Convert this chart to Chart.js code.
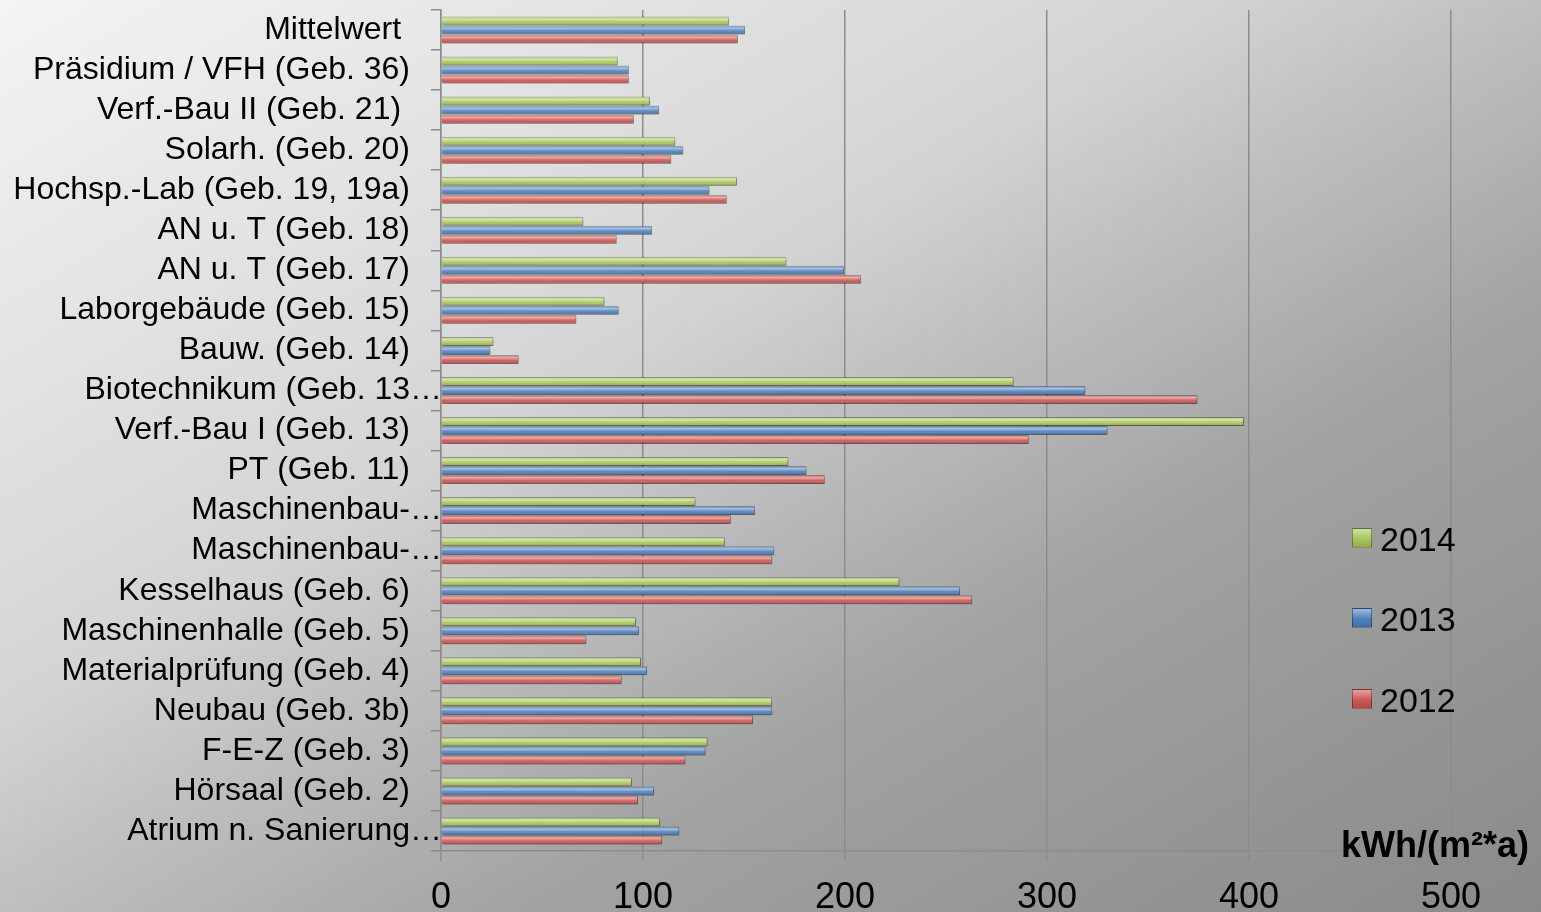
<!DOCTYPE html>
<html lang="de">
<head>
<meta charset="utf-8">
<title>Energiekennwerte Gebäude</title>
<script src="https://cdn.jsdelivr.net/npm/chart.js@4.4.1/dist/chart.umd.min.js"></script>
<style>
  html, body { margin: 0; padding: 0; }
  #wrap {
    position: relative; width: 1541px; height: 912px; overflow: hidden;
    background: linear-gradient(to bottom right, #f4f4f4 0%, #d4d4d4 39%, #bfbfbf 50%, #a2a2a2 67%, #8a8a8a 100%);
    font-family: "Liberation Sans", Arial, sans-serif;
  }
  #wrap canvas { position: absolute; left: 0; top: 0; }
  .legende { position: absolute; left: 1352px; height: 34px; font-size: 34px; line-height: 34px; color: #000; }
  .legende span.kasten { position: absolute; left: 0; width: 18px; height: 18px; border: 1px solid rgba(0,0,0,0.35); }
  .legende span.text { position: absolute; left: 28px; top: 0; }
  #einheit { position: absolute; left: 1341px; top: 827px; font-size: 36px; line-height: 36px; font-weight: bold; color: #000; white-space: nowrap; }
</style>
</head>
<body>
<div id="wrap">
  <canvas id="grafik" width="1541" height="912"></canvas>
  <div id="einheit">kWh/(m²*a)</div>
</div>
<script>
// Kategorien (von oben nach unten)
const gebaeude = [
  'Mittelwert ', 'Präsidium / VFH (Geb. 36)', 'Verf.-Bau II (Geb. 21) ', 'Solarh. (Geb. 20)',
  'Hochsp.-Lab (Geb. 19, 19a)', 'AN u. T (Geb. 18)', 'AN u. T (Geb. 17)', 'Laborgebäude (Geb. 15)',
  'Bauw. (Geb. 14)', 'Biotechnikum (Geb. 13…', 'Verf.-Bau I (Geb. 13)', 'PT (Geb. 11)',
  'Maschinenbau-…', 'Maschinenbau-…', 'Kesselhaus (Geb. 6)', 'Maschinenhalle (Geb. 5)',
  'Materialprüfung (Geb. 4)', 'Neubau (Geb. 3b)', 'F-E-Z (Geb. 3)', 'Hörsaal (Geb. 2)', 'Atrium n. Sanierung…'
];

// Werte in kWh/(m²*a)
const werte2014 = [142.5, 87.5, 103.5, 116, 146.5, 70.5, 171, 81, 26, 283.5, 397.5, 172, 126, 140.5, 227, 96.5, 99, 164, 132, 94.5, 108.5];
const werte2013 = [150.5, 93, 108, 120, 133, 104.5, 199.5, 88, 24.5, 319, 330, 181, 155.5, 165, 257, 98, 102, 164, 131, 105.5, 118];
const werte2012 = [147, 93, 95.5, 114, 141.5, 87, 208, 67, 38.5, 374.5, 291, 190, 143.5, 164, 263, 72, 89.5, 154.5, 121, 97.5, 109.5];

const jahre = ['2014', '2013', '2012'];
const farben = ['#a8c85a', '#4f81bd', '#cf5855'];
const xTicks = [0, 100, 200, 300, 400, 500];

const schrift = '"Liberation Sans", Arial, sans-serif';
const linie = '#8c8c8c';

// Glanz + Schatten für die Balken (3D-Look wie in Excel)
const glanz = {
  id: 'glanz',
  beforeDatasetsDraw(chart) {
    const ctx = chart.ctx;
    ctx.save();
    ctx.shadowColor = 'rgba(0,0,0,0.35)';
    ctx.shadowBlur = 3;
    ctx.shadowOffsetX = 1;
    ctx.shadowOffsetY = 2;
  },
  afterDatasetsDraw(chart) {
    const ctx = chart.ctx;
    ctx.restore();
    chart.data.datasets.forEach((ds, i) => {
      chart.getDatasetMeta(i).data.forEach(bar => {
        const p = bar.getProps(['x', 'y', 'base', 'height'], true);
        const oben = p.y - p.height / 2;
        const g = ctx.createLinearGradient(0, oben, 0, oben + p.height);
        g.addColorStop(0, 'rgba(255,255,255,0.05)');
        g.addColorStop(0.3, 'rgba(255,255,255,0.5)');
        g.addColorStop(0.6, 'rgba(255,255,255,0.08)');
        g.addColorStop(1, 'rgba(0,0,0,0.22)');
        ctx.fillStyle = g;
        ctx.fillRect(p.base, oben + 1, p.x - p.base - 1, p.height - 2);
      });
    });
  }
};

const ctx = document.getElementById('grafik').getContext('2d');
new Chart(ctx, {
  type: 'bar',
  data: {
    labels: gebaeude,
    datasets: [
      { label: jahre[0], data: werte2014, backgroundColor: farben[0] },
      { label: jahre[1], data: werte2013, backgroundColor: farben[1] },
      { label: jahre[2], data: werte2012, backgroundColor: farben[2] }
    ].map(d => Object.assign(d, {
      borderColor: 'rgba(0,0,0,0.3)',
      borderWidth: 1,
      categoryPercentage: 0.675,
      barPercentage: 1.0
    }))
  },
  options: {
    indexAxis: 'y',
    responsive: false,
    animation: false,
    layout: { padding: { top: 10, right: 90, left: 0, bottom: 0 } },
    plugins: {
      legend: { display: false },
      tooltip: { enabled: false }
    },
    scales: {
      x: {
        min: xTicks[0],
        max: xTicks[xTicks.length - 1],
        afterBuildTicks(scale) { scale.ticks = xTicks.map(v => ({ value: v })); },
        ticks: { color: '#000', font: { size: 36, family: schrift }, padding: 15 },
        grid: { color: linie, lineWidth: 1.5, tickLength: 10 },
        border: { display: true, color: linie, width: 1.5 },
        afterFit(scale) { scale.height = 61; }
      },
      y: {
        ticks: {
          color: '#000',
          font: { size: 32, family: schrift },
          padding: -11,
          autoSkip: false,
          // abgeschnittene Beschriftungen reichen bis an die Achse
          callback(v) {
            const t = this.getLabelForValue(v);
            return t.endsWith('…') ? t : t + '\u2003';
          }
        },
        grid: { drawOnChartArea: false, tickLength: 10, color: linie, lineWidth: 1.5 },
        border: { display: true, color: linie, width: 1.5 },
        afterFit(scale) { scale.width = 441; }
      }
    }
  },
  plugins: [glanz]
});

// Legende rechts im Diagramm
const legTops = [522, 602, 683];
jahre.forEach((j, i) => {
  const el = document.createElement('div');
  el.className = 'legende';
  el.style.top = legTops[i] + 'px';
  const k = document.createElement('span');
  k.className = 'kasten';
  k.style.top = '6px';
  k.style.background = 'linear-gradient(to bottom, rgba(255,255,255,0.45), rgba(255,255,255,0) 55%, rgba(0,0,0,0.15)), ' + farben[i];
  const t = document.createElement('span');
  t.className = 'text';
  t.textContent = j;
  el.appendChild(k);
  el.appendChild(t);
  document.getElementById('wrap').appendChild(el);
});
</script>
</body>
</html>
